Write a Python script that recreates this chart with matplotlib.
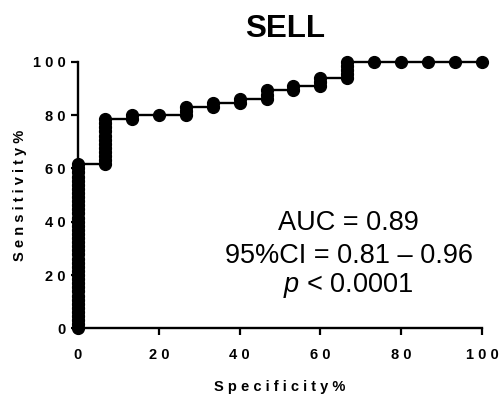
import matplotlib
matplotlib.use('Agg')
import matplotlib.pyplot as plt

plt.rcParams.update({
    'font.family': ['Liberation Sans', 'DejaVu Sans'],
    'mathtext.fontset': 'custom',
    'mathtext.rm': 'Liberation Sans',
    'mathtext.it': 'Liberation Sans:italic',
})

# ROC data: false-positive count per step and the true-positive range reached at it
n_neg = 15
n_pos = 65
fp_steps = [0, 1, 2, 3, 4, 5, 6, 7, 8, 9, 10, 11, 12, 13, 14, 15]
tp_low = [0, 40, 51, 52, 52, 54, 55, 56, 58, 59, 61, 65, 65, 65, 65, 65]
tp_high = [40, 51, 52, 52, 54, 55, 56, 58, 59, 61, 65, 65, 65, 65, 65, 65]

title = 'SELL'
xlabel = 'Specificity%'
ylabel = 'Sensitivity%'
ticks = [0, 20, 40, 60, 80, 100]
stats = ['AUC = 0.89', '95%CI = 0.81 \u2013 0.96', r'$\mathit{p}$ < 0.0001']


def spaced(s):
    # GraphPad-style wide letter spacing
    return ' '.join(s)


xs, ys = [], []
for fp, lo, hi in zip(fp_steps, tp_low, tp_high):
    for tp in range(lo, hi + 1):
        xs.append(fp / n_neg * 100)
        ys.append(tp / n_pos * 100)

fig = plt.figure(figsize=(5, 3.97), dpi=100)
ax = fig.add_axes([0.156, 0.173, 0.808, 0.6715])

ax.plot(xs, ys, color='black', lw=1.7, marker='o', ms=8.5, clip_on=False, zorder=5)

ax.set_xlim(0, 100)
ax.set_ylim(0, 100)
ax.set_xticks(ticks)
ax.set_yticks(ticks)
ax.set_xticklabels([spaced(str(t)) for t in ticks], fontweight='bold', fontsize=10.5)
ax.set_yticklabels([spaced(str(t)) for t in ticks], fontweight='bold', fontsize=10.5)
ax.tick_params(axis='x', length=5, width=1.6, pad=9)
ax.tick_params(axis='y', length=5, width=1.6, pad=4)
for side in ['top', 'right']:
    ax.spines[side].set_visible(False)
for side in ['left', 'bottom']:
    ax.spines[side].set_linewidth(1.7)

fig.text(0.57, 0.907, title, ha='center', va='baseline', fontsize=22.5, fontweight='bold')
ax.set_xlabel(spaced(xlabel), fontsize=10.5, fontweight='bold', labelpad=13)
fig.text(0.04, 0.509, spaced(ylabel), ha='center', va='center', rotation=90,
         fontsize=10.5, fontweight='bold')

for txt, yv in zip(stats, [36.9, 24.5, 13.5]):
    ax.text(67, yv, txt, ha='center', va='baseline', fontsize=19.5)

fig.savefig('out.png', dpi=100)
